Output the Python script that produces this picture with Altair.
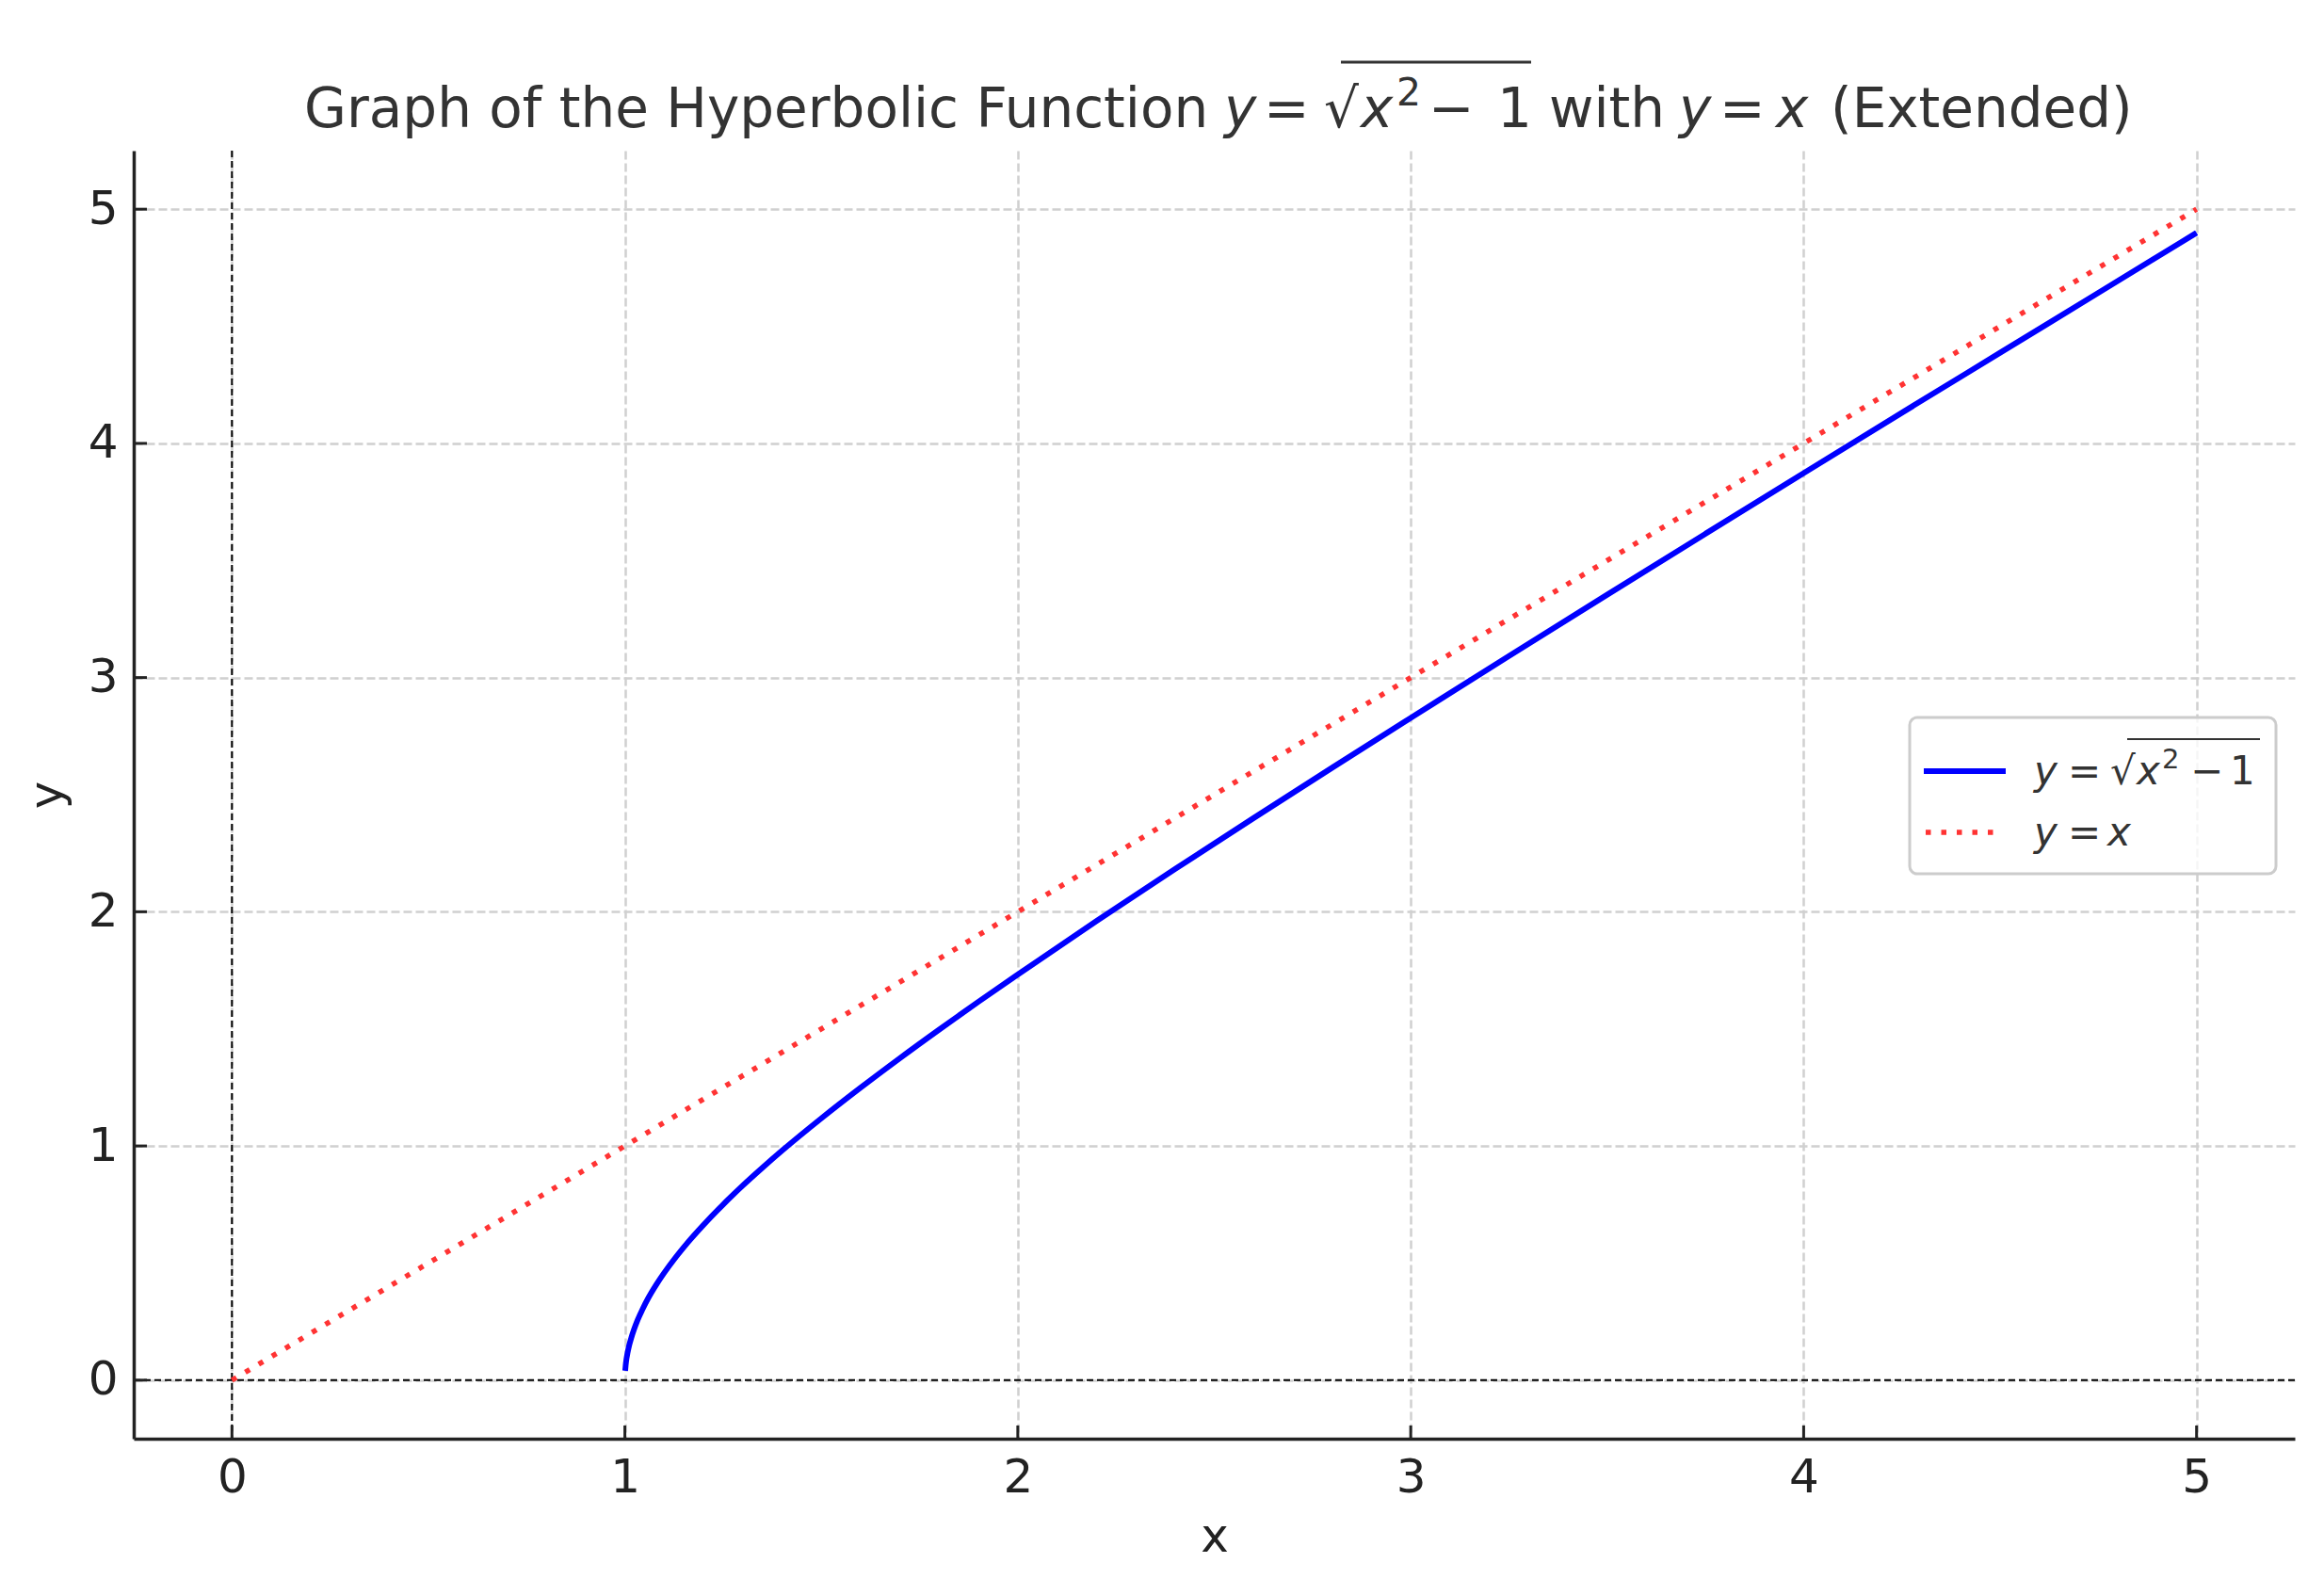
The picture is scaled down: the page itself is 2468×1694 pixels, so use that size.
import altair as alt
import pandas as pd

# ---------------- data ----------------
curve_x = [1.0008, 1.002, 1.004, 1.007, 1.011, 1.016, 1.023, 1.032, 1.045, 1.06,
           1.08, 1.10, 1.13, 1.16, 1.20, 1.25, 1.30, 1.35, 1.40, 1.50, 1.60, 1.70,
           1.80, 1.90, 2.00, 2.20, 2.40, 2.60, 2.80, 3.00, 3.25, 3.50, 3.75, 4.00,
           4.25, 4.50, 4.75, 5.00]
curve_y = [0.040, 0.063, 0.090, 0.118, 0.149, 0.179, 0.215, 0.255, 0.303, 0.352,
           0.408, 0.458, 0.526, 0.588, 0.663, 0.750, 0.831, 0.907, 0.980, 1.118,
           1.249, 1.375, 1.497, 1.616, 1.732, 1.960, 2.182, 2.400, 2.615, 2.828,
           3.092, 3.354, 3.614, 3.873, 4.131, 4.387, 4.643, 4.899]
ident_x = [0, 5]
ident_y = [0, 5]
tick_vals = [0, 1, 2, 3, 4, 5]

# ---------------- layout ----------------
W, H = 2295, 1368
FONT = "DejaVu Sans"
xs = alt.Scale(domain=[-0.25, 5.25], nice=False, zero=False)
ys = alt.Scale(domain=[-0.25, 5.25], nice=False, zero=False)

axis_common = dict(
    values=tick_vals, format="d", grid=True, gridColor="#d0d0d0",
    gridDash=[9, 4], gridWidth=2.5, domainColor="#222222", domainWidth=3.5,
    ticks=False, tickSize=0, labelFont=FONT, labelFontSize=50,
    labelColor="#222222", labelFlush=False, titleFont=FONT, titleFontSize=50,
    titleFontWeight="normal", titleColor="#222222", titleBaseline="alphabetic",
)
x_axis = alt.Axis(labelPadding=16, titleY=119, title="x", **axis_common)
y_axis = alt.Axis(labelPadding=17, titleX=-77, title="y", **axis_common)

curve_df = pd.DataFrame({"x": curve_x, "y": curve_y})
ident_df = pd.DataFrame({"x": ident_x, "y": ident_y})
ticks_x_df = pd.DataFrame({"x": tick_vals})
ticks_y_df = pd.DataFrame({"y": tick_vals})

# zero reference lines
vzero = alt.Chart(pd.DataFrame({"x": [0]})).mark_rule(
    color="black", strokeWidth=2, strokeDash=[7, 4]
).encode(x=alt.X("x:Q", scale=xs, axis=x_axis, title="x"))
hzero = alt.Chart(pd.DataFrame({"y": [0]})).mark_rule(
    color="black", strokeWidth=2, strokeDash=[7, 4]
).encode(y=alt.Y("y:Q", scale=ys, axis=y_axis, title="y"))

blue = alt.Chart(curve_df).mark_line(
    color="#0000ff", strokeWidth=6, interpolate="monotone"
).encode(x=alt.X("x:Q", scale=xs, title="x"), y=alt.Y("y:Q", scale=ys, title="y"))

red = alt.Chart(ident_df).mark_line(
    color="#ff3333", strokeWidth=5.5, strokeDash=[5.5, 11], strokeCap="butt"
).encode(x=alt.X("x:Q", scale=xs, title="x"), y=alt.Y("y:Q", scale=ys, title="y"))

# inward ticks
xticks = alt.Chart(ticks_x_df).mark_rule(color="#222222", strokeWidth=3).encode(
    x=alt.X("x:Q", scale=xs, title="x"), y=alt.value(H - 14), y2=alt.value(H)
)
yticks = alt.Chart(ticks_y_df).mark_rule(color="#222222", strokeWidth=3).encode(
    y=alt.Y("y:Q", scale=ys, title="y"), x=alt.value(0), x2=alt.value(14)
)


def txt(s, px, py, size, italic=False, color="#333333"):
    return alt.Chart(pd.DataFrame({"t": [s]})).mark_text(
        align="left", baseline="alphabetic", font=FONT, fontSize=size,
        fontStyle="italic" if italic else "normal", color=color,
    ).encode(text="t:N", x=alt.value(px), y=alt.value(py))


def hline(x1, x2, y, color, width, dash=None):
    kw = dict(color=color, strokeWidth=width, strokeCap="butt")
    if dash:
        kw["strokeDash"] = dash
    return alt.Chart(pd.DataFrame({"a": [0]})).mark_rule(**kw).encode(
        x=alt.value(x1), x2=alt.value(x2), y=alt.value(y)
    )


# title pieces (mathtext imitation)
TB = -25
title_layers = [
    txt("Graph of the Hyperbolic Function", 181, TB, 58),
    txt("y", 1158, TB, 58, italic=True),
    txt("=", 1200, TB, 58),
    txt("√", 1264, TB, 58),
    txt("x", 1303, TB, 58, italic=True),
    txt("2", 1341, TB - 23, 41),
    txt("−", 1375, TB, 58),
    txt("1", 1448, TB, 58),
    hline(1282, 1484, -94, "#333333", 3),
    txt("with", 1503, TB, 58),
    txt("y", 1641, TB, 58, italic=True),
    txt("=", 1684, TB, 58),
    txt("x", 1744, TB, 58, italic=True),
    txt("(Extended)", 1802, TB, 58),
]

# legend (manual)
legend_box = alt.Chart(pd.DataFrame({"a": [0]})).mark_rect(
    fill="white", fillOpacity=0.8, stroke="#cccccc", strokeWidth=3, cornerRadius=8
).encode(x=alt.value(1886), x2=alt.value(2275), y=alt.value(602), y2=alt.value(768))

L1, L2 = 673, 738
legend_layers = [
    legend_box,
    hline(1901, 1988, 659, "#0000ff", 6),
    hline(1903, 1976, 724, "#ff3333", 5.5, dash=[5.5, 11]),
    txt("y", 2018, L1, 42, italic=True),
    txt("=", 2054, L1, 42),
    txt("√", 2099, L1, 42),
    txt("x", 2127, L1, 42, italic=True),
    txt("2", 2154, L1 - 17, 29),
    txt("−", 2184, L1, 42),
    txt("1", 2226, L1, 42),
    hline(2117, 2258, 625, "#333333", 2),
    txt("y", 2018, L2, 42, italic=True),
    txt("=", 2054, L2, 42),
    txt("x", 2096, L2, 42, italic=True),
]

chart = alt.layer(
    vzero, hzero, xticks, yticks, blue, red, *title_layers, *legend_layers
).properties(
    width=W,
    height=H,
    autosize=alt.AutoSizeParams(type="none"),
    padding={"left": 134, "top": 152, "right": 20, "bottom": 150},
    background="white",
).configure_view(stroke=None)

chart.save("out.html", embed_options={"renderer": "svg", "actions": False})
